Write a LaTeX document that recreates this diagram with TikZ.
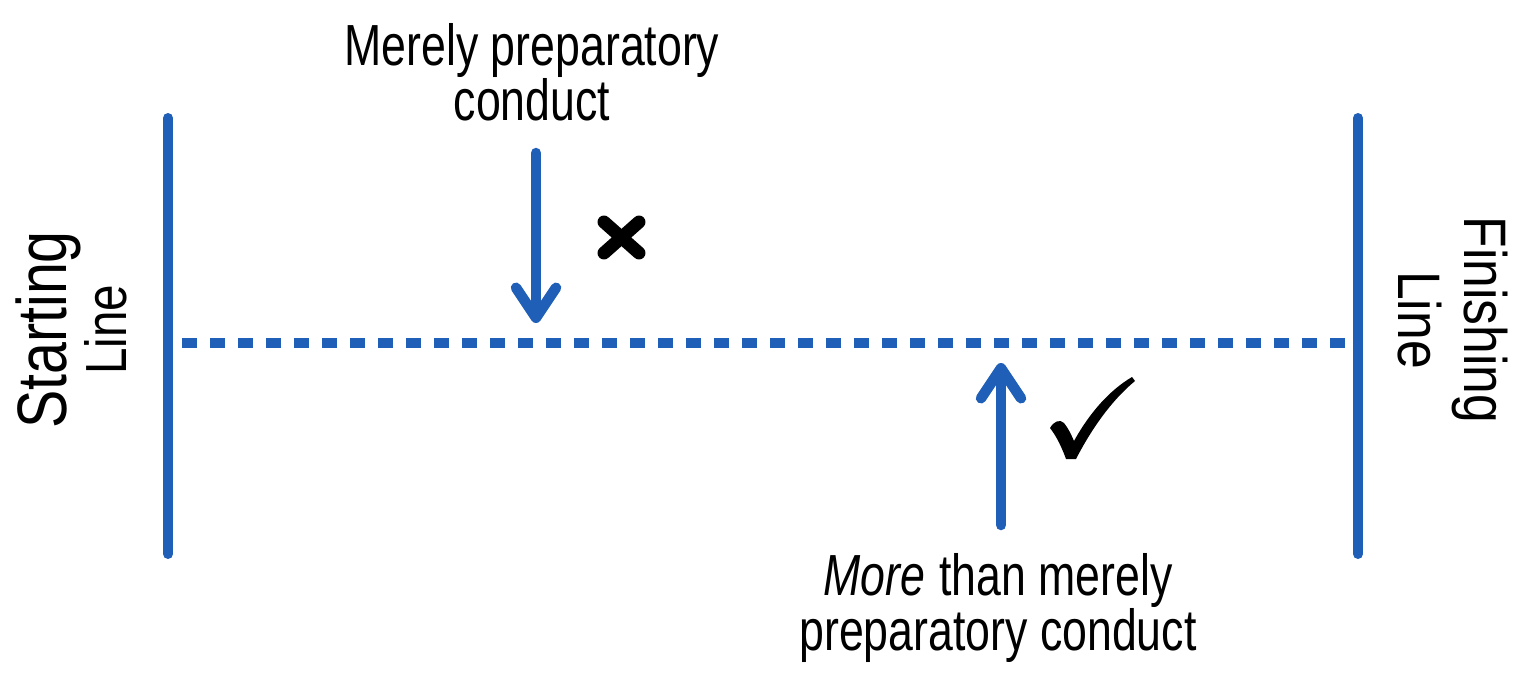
\documentclass[tikz,border=0pt]{standalone}
\usepackage{fontspec}
\setmainfont{Liberation Sans}
\newfontfamily\narrowfont[FakeStretch=0.77]{Liberation Sans}
\newfontfamily\startfont[FakeStretch=0.82]{Liberation Sans}
\newfontfamily\finfont[FakeStretch=0.86]{Liberation Sans}
\usetikzlibrary{arrows.meta}
\definecolor{barblue}{RGB}{31,95,183}
\begin{document}
\begin{tikzpicture}[x=1pt,y=-1pt,
  bar/.style={draw=barblue,line width=10pt,line cap=round},
  dashedline/.style={draw=barblue,line width=10pt,dash pattern=on 15pt off 13pt},
  pointer/.style={draw=barblue,line width=10.5pt,line cap=round,line join=round,
    -{Straight Barb[round,length=30pt,width=40pt]}},
  crossmark/.style={draw=black,line width=13pt,line cap=round},
  lbl/.style={font={\narrowfont\fontsize{58}{55}\selectfont},align=center,inner sep=0pt}]
\useasboundingbox[fill=white] (0,0) rectangle (1523,685);

% bars and dashed line
\coordinate (lt) at (168,118);
\coordinate (lb) at (168,554);
\coordinate (rt) at (1358,118);
\coordinate (rb) at (1358,554);
\coordinate (dl) at (182,343);
\coordinate (dr) at (1358,343);
\draw[bar] (lt) -- (lb);
\draw[bar] (rt) -- (rb);
\draw[dashedline] (dl) -- (dr);

% labels
\node[lbl] (top) at (532,72) {Merely preparatory\\conduct};
\node[lbl] (bottom) at (998,608) {\itshape More\upshape{}\hspace{2pt} than merely\\preparatory conduct};
\node[inner sep=0pt,align=center,rotate=90,font={\startfont\fontsize{58}{60}\selectfont}] (start) at (71,330)
  {{\fontsize{70}{60}\selectfont Starting}\\Line};
\node[inner sep=0pt,align=center,rotate=-90,font={\finfont\fontsize{60}{66}\selectfont}] (finish) at (1453,320)
  {Finishing\\Line};

% arrows
\coordinate (dtop) at (536,153);
\coordinate (dtip) at (536,323);
\coordinate (ubot) at (1001,525);
\coordinate (utip) at (1001,363);
\draw[pointer] (dtop) -- (dtip);
\draw[pointer] (ubot) -- (utip);

% cross mark
\coordinate (x1) at (604,222);
\coordinate (x2) at (639,253);
\coordinate (x3) at (639,222);
\coordinate (x4) at (604,253);
\draw[crossmark] (x1) -- (x2);
\draw[crossmark] (x3) -- (x4);

% check mark
\fill[black] (1050,428) .. controls (1054,421) and (1060,419) .. (1064,423)
  .. controls (1068,428) and (1071,434) .. (1074,441)
  .. controls (1090,412) and (1110,390) .. (1132,377)
  -- (1135,381)
  .. controls (1112,400) and (1092,428) .. (1076,459)
  -- (1066,459)
  .. controls (1062,448) and (1057,437) .. cycle;
\end{tikzpicture}
\end{document}
